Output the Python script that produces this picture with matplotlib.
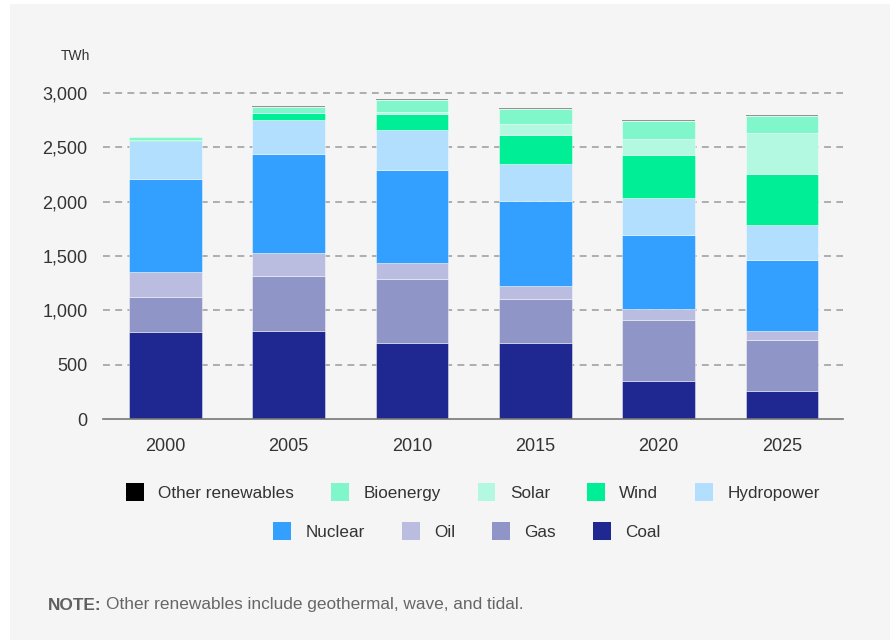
import matplotlib.pyplot as plt
import numpy as np
from matplotlib.patches import Patch

# generation by source, TWh
years = ["2000", "2005", "2010", "2015", "2020", "2025"]
coal = [800, 807, 696, 699, 347, 255]
gas = [323, 506, 589, 402, 561, 469]
oil = [230, 211, 153, 126, 101, 86]
nuclear = [855, 911, 850, 782, 681, 650]
hydropower = [353, 313, 371, 337, 346, 328]
wind = [3, 64, 144, 264, 396, 466]
solar = [0, 1, 25, 101, 147, 374]
bioenergy = [28, 59, 104, 144, 163, 157]
other_renewables = [5, 12, 12, 10, 9, 9]

y_ticks = [0, 500, 1000, 1500, 2000, 2500, 3000]
y_tick_labels = ["0", "500", "1,000", "1,500", "2,000", "2,500", "3,000"]

BG = "#f4f5f4"
TEXT = "#333333"

plt.rcParams['font.family'] = ['Liberation Sans', 'DejaVu Sans']

stack = [
    ("Coal", coal, "#1e2890"),
    ("Gas", gas, "#9095c8"),
    ("Oil", oil, "#bbbde0"),
    ("Nuclear", nuclear, "#33a0ff"),
    ("Hydropower", hydropower, "#b3dfff"),
    ("Wind", wind, "#00ee96"),
    ("Solar", solar, "#b3f8e0"),
    ("Bioenergy", bioenergy, "#80f7cb"),
    ("Other renewables", other_renewables, "#000000"),
]

fig = plt.figure(figsize=(8.9, 6.4), dpi=100)
fig.patch.set_facecolor("white")
# grey panel, leaving a thin white strip on the left and top
fig.patches.append(plt.Rectangle((10 / 890, 0), 1, 1 - 4 / 640, transform=fig.transFigure,
                                 facecolor=BG, edgecolor="none", zorder=-10))

ax = fig.add_axes([103 / 890, 1 - 419 / 640, 740 / 890, (419 - 93) / 640])
ax.set_facecolor(BG)

x = np.arange(len(years))
bottom = np.zeros(len(years))
for name, vals, color in stack:
    vals = np.array(vals, dtype=float)
    if name == "Other renewables":
        ax.bar(x, vals, 0.59, bottom=bottom, color=color, alpha=0.4, linewidth=0, zorder=3)
    else:
        ax.bar(x, vals, 0.59, bottom=bottom, color=color, edgecolor=(1, 1, 1, 0.5),
               linewidth=0.6, zorder=3)
    bottom += vals

ax.set_xlim(-0.506, 5.494)
ax.set_ylim(0, 3000)
ax.set_yticks(y_ticks)
ax.set_yticklabels(y_tick_labels)
ax.set_xticks(x)
ax.set_xticklabels(years)
ax.tick_params(axis="both", length=0, labelsize=13, colors=TEXT)
ax.tick_params(axis="y", pad=11)
ax.tick_params(axis="x", pad=14)

for y in y_ticks[1:]:
    ax.axhline(y, color="#9a9a9a", linewidth=1.1, linestyle=(0, (4.5, 3.5)), zorder=1, clip_on=False)

for side in ["top", "right", "left"]:
    ax.spines[side].set_visible(False)
ax.spines["bottom"].set_color("#777777")
ax.spines["bottom"].set_linewidth(1.2)
ax.spines["bottom"].set_zorder(4)

fig.text(90 / 890, 1 - 56 / 640, "TWh", ha="right", va="center", fontsize=10, color=TEXT)

colors = {name: color for name, vals, color in stack}
legend_kw = dict(frameon=False, fontsize=12.3, handlelength=1.05, handleheight=1.22,
                 handletextpad=0.85, columnspacing=2.15, labelcolor=TEXT,
                 borderaxespad=0, borderpad=0)

row1 = ["Other renewables", "Bioenergy", "Solar", "Wind", "Hydropower"]
row2 = ["Nuclear", "Oil", "Gas", "Coal"]

h1 = [Patch(facecolor=colors[n], edgecolor="none") for n in row1]
fig.legend(h1, row1, loc="center", bbox_to_anchor=(473 / 890, 1 - 492 / 640),
           ncol=5, **legend_kw)
h2 = [Patch(facecolor=colors[n], edgecolor="none") for n in row2]
fig.legend(h2, row2, loc="center", bbox_to_anchor=(467 / 890, 1 - 531 / 640),
           ncol=4, **legend_kw)

fig.text(48 / 890, 1 - 605 / 640, "NOTE:", ha="left", va="center", fontsize=12.4,
         fontweight="bold", color="#5f5f5f")
fig.text(106 / 890, 1 - 605 / 640, "Other renewables include geothermal, wave, and tidal.",
         ha="left", va="center", fontsize=12.4, color="#666666")

fig.savefig("out.png", dpi=100, facecolor=fig.get_facecolor())
